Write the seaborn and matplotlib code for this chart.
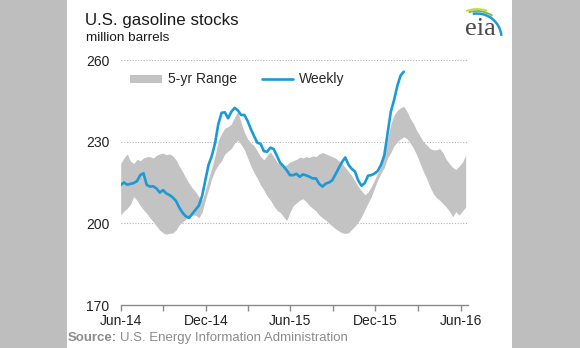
import numpy as np
import pandas as pd
import matplotlib
matplotlib.use("Agg")
import matplotlib.pyplot as plt
import seaborn as sns
from matplotlib.patches import Rectangle, Patch, Arc
from matplotlib.lines import Line2D

# ---------------- data (million barrels, weekly) ----------------
start_date = "2014-06-01"
weekly = [214.1, 215.0, 214.2, 214.5, 214.8, 215.5, 217.7, 218.4, 214.1, 213.5,
          213.6, 212.8, 211.3, 212.2, 211.0, 210.4, 209.5, 208.2, 205.8, 203.9,
          202.6, 202.0, 203.5, 205.0, 206.5, 210.0, 215.8, 221.5, 224.8, 229.5,
          236.5, 240.6, 240.8, 238.6, 241.0, 242.4, 241.5, 239.8, 239.8, 237.6,
          234.6, 232.0, 229.6, 229.2, 226.5, 226.3, 227.8, 227.3, 224.8, 222.2,
          221.0, 219.5, 217.7, 217.7, 218.2, 217.1, 218.0, 217.6, 217.1, 216.5,
          216.5, 214.5, 213.5, 214.6, 215.0, 215.8, 218.0, 220.3, 222.5, 224.2,
          221.5, 220.0, 219.0, 215.7, 213.8, 214.8, 217.5, 217.7, 218.3, 219.3,
          221.5, 225.0, 233.0, 241.0, 245.3, 250.5, 254.3, 255.7]
range_high = [222.0, 224.0, 225.5, 222.8, 222.0, 223.5, 223.0, 224.0, 224.5, 224.5,
              224.0, 225.0, 225.5, 225.8, 225.2, 225.5, 224.8, 223.3, 221.0, 219.0,
              216.8, 214.7, 213.0, 211.6, 209.8, 208.5, 212.0, 216.5, 220.5, 225.0,
              230.5, 233.0, 235.0, 235.5, 236.5, 239.0, 241.0, 237.0, 233.5, 231.0,
              229.5, 228.5, 226.5, 224.5, 223.3, 225.0, 226.3, 224.5, 222.5, 221.5,
              221.0, 221.5, 222.5, 223.0, 223.5, 224.3, 224.0, 224.5, 224.2, 224.8,
              224.5, 225.5, 226.0, 225.5, 225.0, 224.5, 224.0, 223.0, 222.0, 220.5,
              219.0, 217.5, 215.5, 213.5, 212.0, 210.5, 211.5, 213.5, 216.0, 218.5,
              221.0, 225.0, 231.0, 236.5, 239.8, 241.5, 242.5, 243.0, 241.0, 238.5,
              236.5, 234.0, 232.0, 230.0, 228.8, 227.5, 227.0, 227.0, 227.5, 226.0,
              223.5, 222.0, 220.5, 219.8, 221.0, 222.5, 225.0]
range_low = [203.0, 204.5, 205.5, 207.0, 209.8, 208.5, 206.5, 205.0, 203.7, 202.0,
             200.6, 199.0, 197.5, 196.5, 196.0, 196.3, 196.5, 197.5, 199.5, 200.5,
             201.5, 202.5, 203.0, 203.0, 202.0, 204.0, 208.5, 212.5, 216.5, 219.5,
             221.5, 223.0, 225.5, 226.5, 227.5, 229.5, 230.5, 229.0, 227.0, 224.0,
             221.0, 218.5, 216.5, 214.0, 212.2, 210.0, 208.5, 206.5, 204.8, 204.0,
             202.5, 201.0, 204.0, 206.5, 207.5, 208.5, 209.0, 208.0, 206.5, 205.5,
             204.5, 203.0, 202.0, 201.2, 200.0, 199.0, 198.0, 197.2, 196.5, 196.3,
             196.5, 197.8, 199.0, 200.5, 202.5, 205.0, 207.5, 209.8, 213.0, 216.0,
             218.5, 220.5, 224.0, 226.0, 228.5, 230.0, 231.0, 231.8, 231.0, 229.5,
             227.5, 225.0, 222.0, 219.0, 216.5, 213.5, 211.0, 209.5, 208.5, 207.3,
             206.0, 204.5, 202.4, 204.3, 203.0, 204.5, 206.0]
tick_dates = ["2014-06-01", "2014-09-01", "2014-12-01", "2015-03-01", "2015-06-01",
              "2015-09-01", "2015-12-01", "2016-03-01", "2016-06-01"]
tick_labels = ["Jun-14", "", "Dec-14", "", "Jun-15", "", "Dec-15", "", "Jun-16"]
y_ticks = [170, 200, 230, 260]

dates = pd.date_range(start_date, periods=len(range_high), freq="7D")
band = pd.DataFrame({"date": dates, "low": range_low, "high": range_high})
line_df = pd.DataFrame({"date": dates[:len(weekly)], "value": weekly})

# ---------------- style ----------------
sns.set_theme(style="white")
plt.rcParams["font.family"] = ["Liberation Sans", "DejaVu Sans"]

W, H = 580, 348
fig = plt.figure(figsize=(W / 100, H / 100), dpi=100, facecolor="#bebebe")
fig.patches.append(Rectangle((67 / W, 0), (512 - 67) / W, 1, transform=fig.transFigure,
                             facecolor="white", edgecolor="none", zorder=-10))

ax = fig.add_axes([120.7 / W, 1 - 305 / H, (468 - 120.7) / W, (305 - 60) / H])
ax.set_facecolor("none")
ax.set_zorder(1)

BLUE = "#1a9ad7"
BAND = "#c3c3c3"

ax.fill_between(band["date"], band["low"], band["high"], color=BAND, lw=0, zorder=2)
sns.lineplot(data=line_df, x="date", y="value", ax=ax, color=BLUE, lw=1.9, zorder=3)

ax.set_xlim(pd.Timestamp("2014-06-01"), pd.Timestamp("2016-06-17"))
ax.set_ylim(170, 260)
ax.set_yticks(y_ticks)
ax.set_yticklabels([str(v) for v in y_ticks], fontsize=10, color="#222222")
ax.set_xticks(pd.to_datetime(tick_dates))
ax.set_xticklabels(tick_labels, fontsize=10, color="#222222")
ax.set_xlabel("")
ax.set_ylabel("")

for v in y_ticks[1:]:
    ax.axhline(v, color="#b5b5b5", lw=0.8, ls=(0, (1, 1.5)), zorder=1)

for s in ["top", "right", "left"]:
    ax.spines[s].set_visible(False)
ax.spines["bottom"].set_color("#8a8a8a")
ax.spines["bottom"].set_linewidth(1.0)
ax.tick_params(axis="y", left=False, length=0, pad=8)
ax.tick_params(axis="x", bottom=True, length=4, width=1.0, color="#8a8a8a", pad=2.5,
               direction="out")
ax.grid(False)

# legend
handles = [Patch(facecolor=BAND, edgecolor="none", label="5-yr Range"),
           Line2D([0], [0], color=BLUE, lw=1.9, label="Weekly")]
fig.legend(handles=handles, loc="center left", bbox_to_anchor=(130 / W, 1 - 79.5 / H),
           bbox_transform=fig.transFigure, ncol=2, frameon=False, fontsize=10,
           handlelength=2.3, handleheight=0.5, handletextpad=0.4, columnspacing=1.8,
           borderpad=0, borderaxespad=0)

# titles
fig.text(85 / W, 1 - 25 / H, "U.S. gasoline stocks", fontsize=12.2, color="#1a1a1a",
         va="baseline", ha="left")
fig.text(86 / W, 1 - 41 / H, "million barrels", fontsize=9.7, color="#1a1a1a",
         va="baseline", ha="left")

# source
src = fig.text(68 / W, 1 - 341 / H, "Source:", fontsize=9.5, fontweight="bold",
               color="#8c8c8c", va="baseline", ha="left")
fig.canvas.draw()
bb = src.get_window_extent(renderer=fig.canvas.get_renderer())
fig.text((bb.x1 + 3) / W, 1 - 341 / H, "U.S. Energy Information Administration",
         fontsize=9.5, color="#8c8c8c", va="baseline", ha="left")

# eia logo
fig.text(480 / W, 1 - 35 / H, "eia", fontsize=19, family="Liberation Serif",
         color="#4a4a4a", va="baseline", ha="center")
for (r, col, t1, t2, lw) in [(29, "#d2d62c", 70, 112, 1.3), (27, "#6cbd4a", 55, 108, 1.3),
                             (24.5, "#1e9ad6", 5, 100, 1.8)]:
    fig.patches.append(Arc((477, H - 38), 2 * r, 2 * r, theta1=t1, theta2=t2,
                           transform=None, color=col, lw=lw, zorder=5))

fig.savefig("out.png", dpi=100, facecolor=fig.get_facecolor())
